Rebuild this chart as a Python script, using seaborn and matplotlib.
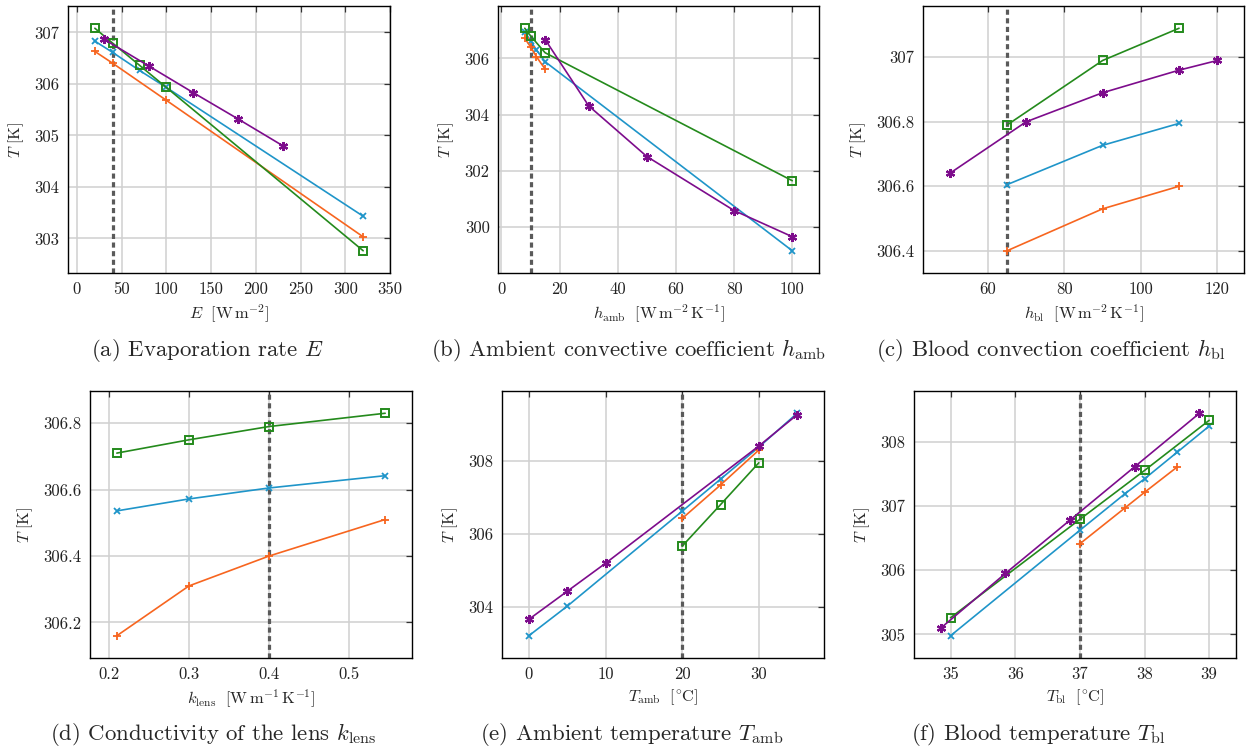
import matplotlib
matplotlib.use("Agg")
import matplotlib.pyplot as plt
from matplotlib.ticker import MultipleLocator, FuncFormatter
import seaborn as sns

# ---------------- data ----------------
# (a) evaporation rate E [W m^-2]
a_green_x = [20, 40, 70, 100, 320]
a_green_T = [307.08, 306.79, 306.36, 305.93, 302.76]
a_purple_x = [30, 80, 130, 180, 230]
a_purple_T = [306.87, 306.35, 305.83, 305.32, 304.80]
a_blue_x = [20, 40, 70, 100, 320]
a_blue_T = [306.83, 306.61, 306.26, 305.93, 303.43]
a_orange_x = [20, 40, 100, 320]
a_orange_T = [306.63, 306.40, 305.68, 303.03]
a_ref = 40

# (b) ambient convective coefficient h_amb [W m^-2 K^-1]
b_green_x = [8, 10, 15, 100]
b_green_T = [307.07, 306.80, 306.20, 301.65]
b_purple_x = [15, 30, 50, 80, 100]
b_purple_T = [306.67, 304.31, 302.51, 300.59, 299.66]
b_blue_x = [8, 10, 12, 15, 100]
b_blue_T = [306.94, 306.63, 306.30, 305.88, 299.16]
b_orange_x = [8, 10, 12, 15]
b_orange_T = [306.71, 306.41, 306.06, 305.62]
b_ref = 10

# (c) blood convection coefficient h_bl [W m^-2 K^-1]
c_green_x = [65, 90, 110]
c_green_T = [306.79, 306.99, 307.09]
c_purple_x = [50, 70, 90, 110, 120]
c_purple_T = [306.64, 306.80, 306.89, 306.96, 306.99]
c_blue_x = [65, 90, 110]
c_blue_T = [306.605, 306.727, 306.795]
c_orange_x = [65, 90, 110]
c_orange_T = [306.40, 306.53, 306.60]
c_ref = 65

# (d) lens conductivity k_lens [W m^-1 K^-1]
d_x = [0.21, 0.30, 0.40, 0.545]
d_green_T = [306.71, 306.75, 306.79, 306.83]
d_blue_T = [306.536, 306.572, 306.605, 306.642]
d_orange_T = [306.16, 306.31, 306.40, 306.51]
d_ref = 0.4

# (e) ambient temperature T_amb [deg C]
e_purple_x = [0, 5, 10, 30, 35]
e_purple_T = [303.65, 304.42, 305.19, 308.41, 309.27]
e_blue_x = [0, 5, 20, 25, 30, 35]
e_blue_T = [303.20, 304.01, 306.62, 307.50, 308.38, 309.31]
e_orange_x = [20, 25, 30]
e_orange_T = [306.42, 307.34, 308.30]
e_green_x = [20, 25, 30]
e_green_T = [305.66, 306.80, 307.95]
e_ref = 20

# (f) blood temperature T_bl [deg C]
f_purple_x = [34.85, 35.85, 36.85, 37.85, 38.85]
f_purple_T = [305.10, 305.95, 306.78, 307.61, 308.44]
f_green_x = [35, 37, 38, 39]
f_green_T = [305.26, 306.79, 307.55, 308.33]
f_blue_x = [35, 37, 37.7, 38, 38.5, 39]
f_blue_T = [304.98, 306.62, 307.19, 307.42, 307.83, 308.24]
f_orange_x = [37, 37.7, 38, 38.5]
f_orange_T = [306.41, 306.97, 307.21, 307.60]
f_ref = 37

# ---------------- style ----------------
sns.set_theme(style="whitegrid")
plt.rcParams.update({
    "font.family": ["cmr10", "DejaVu Serif"],
    "mathtext.fontset": "cm",
    "axes.formatter.use_mathtext": True,
    "axes.edgecolor": "black",
    "axes.linewidth": 1.0,
    "grid.color": "#d0d0d0",
    "grid.linewidth": 1.1,
    "xtick.color": "#333333",
    "ytick.color": "#333333",
    "xtick.labelcolor": "#222222",
    "ytick.labelcolor": "#222222",
})

COL = {
    "green": "#248a1c",
    "purple": "#7d0c8c",
    "blue": "#1f95c9",
    "orange": "#f7651f",
}
MARK = {
    "green": dict(marker="s", markersize=6, markerfacecolor="none",
                  markeredgewidth=1.4),
    "purple": dict(marker=(6, 2, 0), markersize=6.5, markeredgewidth=1.6),
    "blue": dict(marker="x", markersize=4.5, markeredgewidth=1.3),
    "orange": dict(marker="+", markersize=6, markeredgewidth=1.3),
}

fig = plt.figure(figsize=(12.5, 7.49), dpi=100)
W, H = 1250, 749


def make_axes(x0, y0, x1, y1):
    return fig.add_axes([x0 / W, 1 - y1 / H, (x1 - x0) / W, (y1 - y0) / H])


def draw(ax, series, ref, xlabel, xstep, ystep):
    ax.axvline(ref, color="#5a5a5a", lw=2.3, ls=(0, (1.6, 1.1)), zorder=2)
    for name, xs, ys in series:
        sns.lineplot(x=xs, y=ys, ax=ax, color=COL[name], lw=1.2,
                     markeredgecolor=COL[name], estimator=None, sort=False,
                     zorder=3, **MARK[name])
    ax.margins(x=0.1, y=0.1)
    ax.xaxis.set_major_locator(MultipleLocator(xstep))
    ax.yaxis.set_major_locator(MultipleLocator(ystep))
    fmt = FuncFormatter(lambda v, p: f"{round(v, 6):g}")
    ax.xaxis.set_major_formatter(fmt)
    ax.yaxis.set_major_formatter(fmt)
    ax.tick_params(direction="in", length=4, width=0.9, top=True, right=True,
                   labelsize=12, pad=6)
    ax.grid(True, zorder=0)
    ax.set_axisbelow(True)
    for s in ax.spines.values():
        s.set_color("black")
        s.set_linewidth(1.0)
    ax.set_xlabel(xlabel, fontsize=11.8, labelpad=4)
    ax.set_ylabel(r"$T\ [\mathrm{K}]$", fontsize=11.8, labelpad=6)


ax_a = make_axes(68, 6, 390, 273)
draw(ax_a, [("blue", a_blue_x, a_blue_T), ("orange", a_orange_x, a_orange_T),
            ("green", a_green_x, a_green_T), ("purple", a_purple_x, a_purple_T)],
     a_ref, r"$E\ \ [\mathrm{W\,m^{-2}}]$", 50, 1)

ax_b = make_axes(498, 6, 819, 273)
draw(ax_b, [("blue", b_blue_x, b_blue_T), ("orange", b_orange_x, b_orange_T),
            ("green", b_green_x, b_green_T), ("purple", b_purple_x, b_purple_T)],
     b_ref, r"$h_{\mathrm{amb}}\ \ [\mathrm{W\,m^{-2}\,K^{-1}}]$", 20, 2)

ax_c = make_axes(923, 6, 1244, 273)
draw(ax_c, [("blue", c_blue_x, c_blue_T), ("orange", c_orange_x, c_orange_T),
            ("green", c_green_x, c_green_T), ("purple", c_purple_x, c_purple_T)],
     c_ref, r"$h_{\mathrm{bl}}\ \ [\mathrm{W\,m^{-2}\,K^{-1}}]$", 20, 0.2)

ax_d = make_axes(90, 391, 412, 658)
draw(ax_d, [("blue", d_x, d_blue_T), ("orange", d_x, d_orange_T),
            ("green", d_x, d_green_T)],
     d_ref, r"$k_{\mathrm{lens}}\ \ [\mathrm{W\,m^{-1}\,K^{-1}}]$", 0.1, 0.2)

ax_e = make_axes(502, 391, 824, 658)
draw(ax_e, [("blue", e_blue_x, e_blue_T), ("orange", e_orange_x, e_orange_T),
            ("green", e_green_x, e_green_T), ("purple", e_purple_x, e_purple_T)],
     e_ref, r"$T_{\mathrm{amb}}\ \ [^{\circ}\mathrm{C}]$", 10, 2)

ax_f = make_axes(914, 391, 1236, 658)
draw(ax_f, [("blue", f_blue_x, f_blue_T), ("orange", f_orange_x, f_orange_T),
            ("green", f_green_x, f_green_T), ("purple", f_purple_x, f_purple_T)],
     f_ref, r"$T_{\mathrm{bl}}\ \ [^{\circ}\mathrm{C}]$", 1, 1)

captions = [
    (207, 350, r"(a) Evaporation rate $E$"),
    (629, 350, r"(b) Ambient convective coefficient $h_{\mathrm{amb}}$"),
    (1051, 350, r"(c) Blood convection coefficient $h_{\mathrm{bl}}$"),
    (213, 735, r"(d) Conductivity of the lens $k_{\mathrm{lens}}$"),
    (632, 735, r"(e) Ambient temperature $T_{\mathrm{amb}}$"),
    (1038, 735, r"(f) Blood temperature $T_{\mathrm{bl}}$"),
]
for cx, cy, txt in captions:
    fig.text(cx / W, 1 - cy / H, txt, ha="center", va="center", fontsize=16.4)

fig.savefig("out.png", dpi=100)
